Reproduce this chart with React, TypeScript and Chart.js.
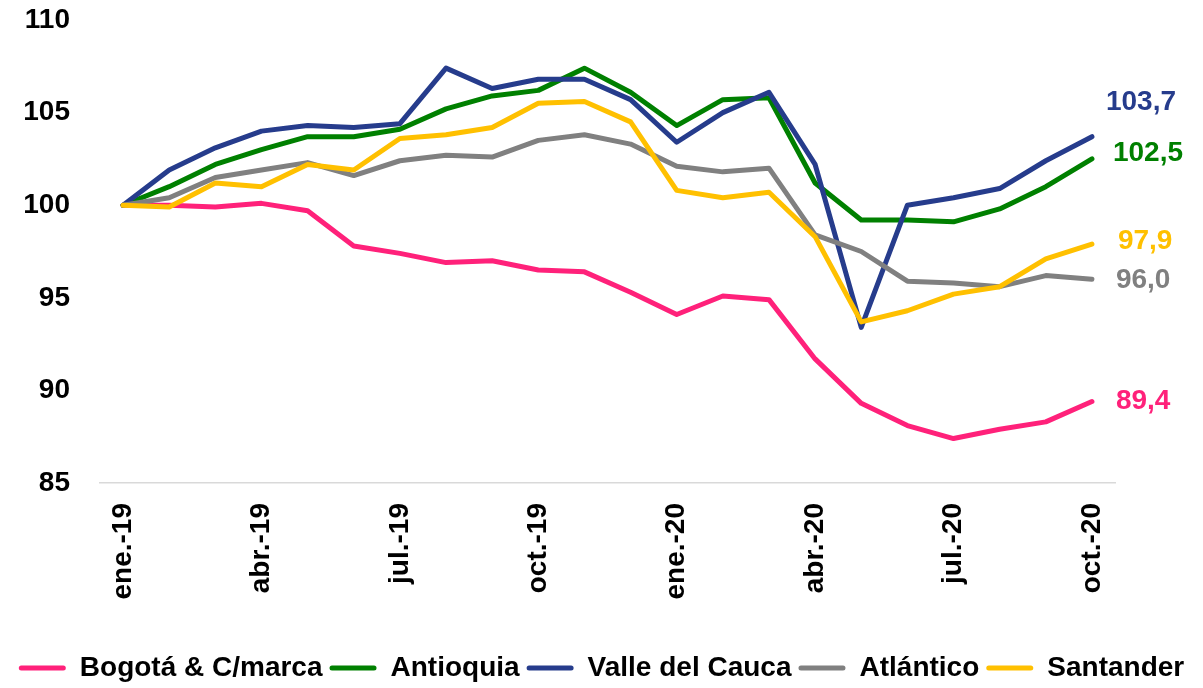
import React, { useEffect, useRef } from 'react';
import { Chart, registerables } from 'chart.js';

Chart.register(...registerables);

const months = [
  'ene.-19', 'feb.-19', 'mar.-19', 'abr.-19', 'may.-19', 'jun.-19', 'jul.-19', 'ago.-19',
  'sep.-19', 'oct.-19', 'nov.-19', 'dic.-19', 'ene.-20', 'feb.-20', 'mar.-20', 'abr.-20',
  'may.-20', 'jun.-20', 'jul.-20', 'ago.-20', 'sep.-20', 'oct.-20',
];
const tickEvery = 3;
const yTicks = [85, 90, 95, 100, 105, 110];

const bogota = [100, 100.0, 99.9, 100.1, 99.7, 97.8, 97.4, 96.9, 97.0, 96.5, 96.4, 95.3, 94.1, 95.1, 94.9, 91.7, 89.3, 88.1, 87.4, 87.9, 88.3, 89.4];
const antioquia = [100, 101.0, 102.2, 103.0, 103.7, 103.7, 104.1, 105.2, 105.9, 106.2, 107.4, 106.1, 104.3, 105.7, 105.8, 101.2, 99.2, 99.2, 99.1, 99.8, 101.0, 102.5];
const valle = [100, 101.9, 103.1, 104.0, 104.3, 104.2, 104.4, 107.4, 106.3, 106.8, 106.8, 105.7, 103.4, 105.0, 106.1, 102.2, 93.4, 100.0, 100.4, 100.9, 102.4, 103.7];
const atlantico = [100, 100.4, 101.5, 101.9, 102.3, 101.6, 102.4, 102.7, 102.6, 103.5, 103.8, 103.3, 102.1, 101.8, 102.0, 98.4, 97.5, 95.9, 95.8, 95.6, 96.2, 96.0];
const santander = [100, 99.9, 101.2, 101.0, 102.2, 101.9, 103.6, 103.8, 104.2, 105.5, 105.6, 104.5, 100.8, 100.4, 100.7, 98.3, 93.7, 94.3, 95.2, 95.6, 97.1, 97.9];

const seriesNames = ['Bogotá & C/marca', 'Antioquia', 'Valle del Cauca', 'Atlántico', 'Santander'];
const seriesValues = [bogota, antioquia, valle, atlantico, santander];
const seriesColors = ['#FF217A', '#008000', '#263C8C', '#808080', '#FFC000'];
// end label offsets (style): [dx, dy] from last point
const labelOffsets = [[24, 0], [21, -6], [14, -34], [24, 1], [26, -3]];

const FONT = '"Liberation Sans", Arial, sans-serif';

export default function App() {
  const ref = useRef<HTMLCanvasElement>(null);
  useEffect(() => {
    document.body.style.margin = '0';
    const canvas = ref.current!;
    const endLabels = {
      id: 'endLabels',
      afterDatasetsDraw(chart: any) {
        const c = chart.ctx;
        c.save();
        c.font = `bold 28px ${FONT}`;
        c.textAlign = 'left';
        c.textBaseline = 'middle';
        chart.data.datasets.forEach((ds: any, i: number) => {
          const meta = chart.getDatasetMeta(i);
          const pt = meta.data[meta.data.length - 1];
          const v = ds.data[ds.data.length - 1] as number;
          c.fillStyle = seriesColors[i];
          c.fillText(v.toFixed(1).replace('.', ','), pt.x + labelOffsets[i][0], pt.y + labelOffsets[i][1]);
        });
        c.restore();
      },
    };
    const chart = new Chart(canvas, {
      type: 'line',
      data: {
        labels: months,
        datasets: seriesNames.map((name, i) => ({
          label: name,
          data: seriesValues[i],
          borderColor: seriesColors[i],
          backgroundColor: seriesColors[i],
          borderWidth: 5,
          pointRadius: 0,
          pointHoverRadius: 0,
          tension: 0,
          borderCapStyle: 'round' as const,
          borderJoinStyle: 'round' as const,
          order: seriesNames.length - i,
        })),
      },
      options: {
        animation: false,
        responsive: true,
        maintainAspectRatio: false,
        layout: { padding: { top: 20, right: 0, left: 0, bottom: -4 } },
        plugins: {
          tooltip: { enabled: false },
          legend: {
            position: 'bottom',
            labels: {
              font: { family: FONT, size: 28, weight: 'bold' },
              color: '#000',
              boxWidth: 47,
              boxHeight: 5,
              padding: 7,
              useBorderRadius: true,
              borderRadius: 2.5,
              sort: (a: any, b: any) => a.datasetIndex - b.datasetIndex,
              generateLabels: (chart: any) => {
                const items = Chart.defaults.plugins.legend.labels.generateLabels(chart);
                return items.map((it: any) => ({ ...it, lineWidth: 0, fillStyle: seriesColors[it.datasetIndex] }));
              },
            },
          },
        },
        scales: {
          x: {
            offset: true,
            grid: { display: false, drawTicks: false },
            border: { display: true, color: '#D9D9D9', width: 1.5 },
            ticks: {
              autoSkip: false,
              maxRotation: 90,
              minRotation: 90,
              padding: 20,
              color: '#000',
              font: { family: FONT, size: 28, weight: 'bold' },
              callback: (_v: any, i: number) => (i % tickEvery === 0 ? months[i] : null),
            },
            afterFit: (scale: any) => { scale.height = 164; },
          },
          y: {
            min: yTicks[0],
            max: yTicks[yTicks.length - 1],
            grid: { display: false, drawTicks: false },
            border: { display: false },
            afterBuildTicks: (scale: any) => { scale.ticks = yTicks.map((v) => ({ value: v })); },
            ticks: {
              padding: 30,
              color: '#000',
              font: { family: FONT, size: 28, weight: 'bold' },
            },
            afterFit: (scale: any) => {
              scale.width = 100;
              scale.paddingTop = 0;
              scale.paddingBottom = 0;
            },
          },
          yRight: {
            position: 'right',
            min: yTicks[0],
            max: yTicks[yTicks.length - 1],
            grid: { display: false, drawTicks: false },
            border: { display: false },
            ticks: { display: false },
            afterFit: (scale: any) => {
              scale.width = 88;
              scale.paddingTop = 0;
              scale.paddingBottom = 0;
            },
          },
        },
      },
      plugins: [endLabels],
    });
    return () => chart.destroy();
  }, []);
  return (
    <div style={{ width: 1203, height: 688, position: 'relative' }}>
      <canvas ref={ref} />
    </div>
  );
}
